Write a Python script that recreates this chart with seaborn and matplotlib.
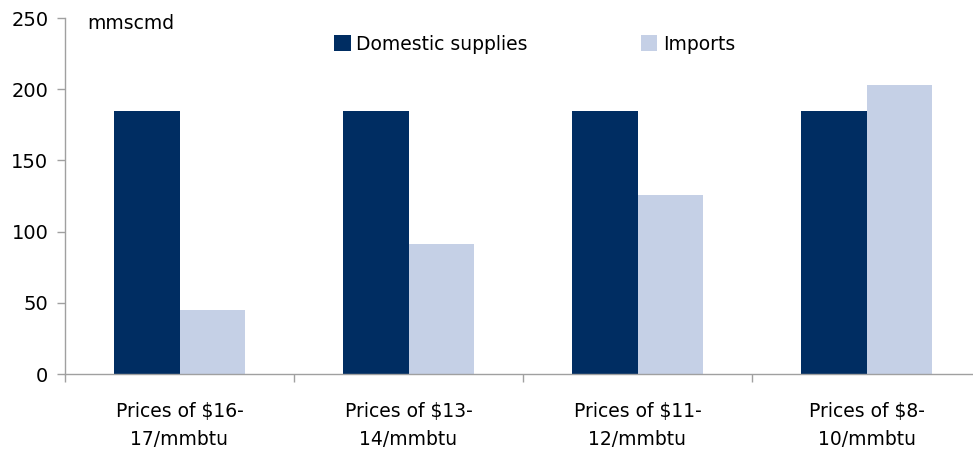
import numpy as np
import pandas as pd
import seaborn as sns
import matplotlib.pyplot as plt
from matplotlib.patches import Patch

categories = ["Prices of $16-\n17/mmbtu", "Prices of $13-\n14/mmbtu",
              "Prices of $11-\n12/mmbtu", "Prices of $8-\n10/mmbtu"]
domestic = [185, 185, 185, 185]
imports = [45, 91, 126, 203]
series = ["Domestic supplies", "Imports"]
colors = ["#002D62", "#C5D0E6"]

df = pd.DataFrame({
    "category": categories * 2,
    "series": [series[0]] * 4 + [series[1]] * 4,
    "value": domestic + imports,
})

sns.set_style("white")
plt.rcParams["font.family"] = ["DejaVu Sans"]
plt.rcParams["text.color"] = "black"
plt.rcParams["xtick.color"] = "black"
plt.rcParams["ytick.color"] = "black"

fig = plt.figure(figsize=(9.73, 4.5), dpi=100)
ax = fig.add_axes([65 / 973, 76 / 450, 916 / 973, 356 / 450])

sns.barplot(data=df, x="category", y="value", hue="series", palette=colors,
            width=0.576, gap=0, saturation=1, legend=False, linewidth=0, ax=ax)

ax.set_xlim(-0.5, 3.5)
ax.set_ylim(0, 250)
ax.set_yticks(range(0, 251, 50))
ax.set_xlabel("")
ax.set_ylabel("")

# ticks between the groups, like the original
ax.set_xticks([0, 1, 2, 3])
ax.set_xticklabels(categories, fontsize=13.5, linespacing=1.6)
ax.tick_params(axis="x", which="major", bottom=True, length=0, pad=20)
ax.set_xticks([-0.5, 0.5, 1.5, 2.5, 3.5], minor=True)
ax.tick_params(axis="x", which="minor", bottom=True, length=6, width=1,
               color="#A0A0A0", direction="out")
ax.tick_params(axis="y", left=True, length=6, width=1, color="#A0A0A0",
               labelcolor="black", direction="out", labelsize=14, pad=6)

for side in ["top", "right"]:
    ax.spines[side].set_visible(False)
for side in ["left", "bottom"]:
    ax.spines[side].set_color("#A0A0A0")
    ax.spines[side].set_linewidth(1)

ax.text(22 / 916, 1.01, "mmscmd", transform=ax.transAxes, fontsize=13.5,
        va="top", ha="left")

handles = [Patch(facecolor=c, edgecolor="none") for c in colors]
fig.legend(handles, series, loc="center left", bbox_to_anchor=(334 / 973, 1 - 44 / 450),
           ncol=2, frameon=False, fontsize=13.5, handlelength=0.9, handleheight=0.9,
           handletextpad=0.3, columnspacing=6.0, borderaxespad=0, borderpad=0)

fig.savefig("out.png", dpi=100)
